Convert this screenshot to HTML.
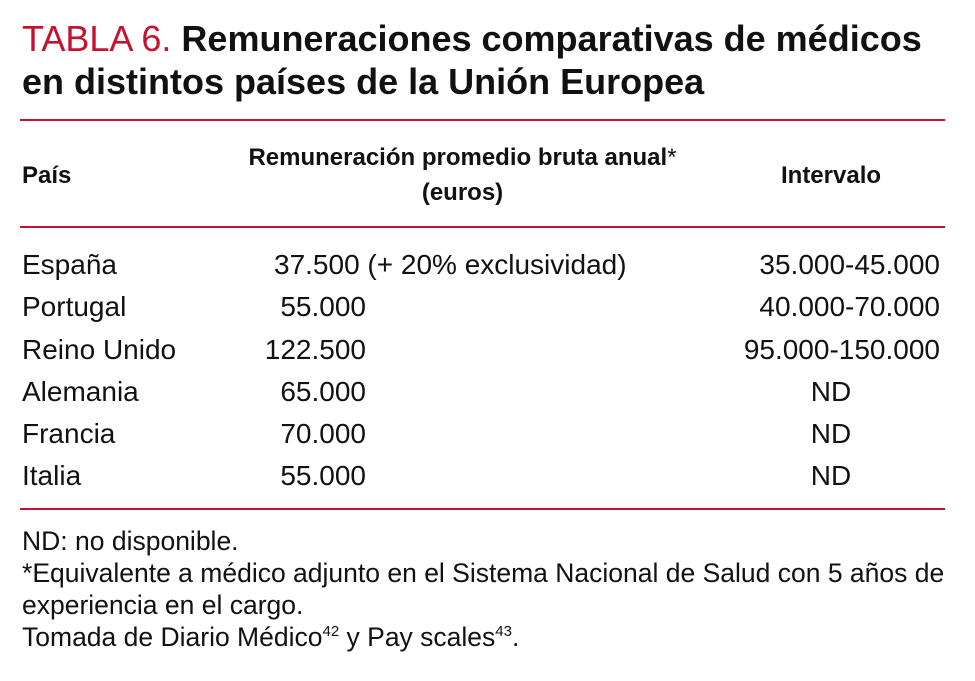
<!DOCTYPE html>
<html><head><meta charset="utf-8"><style>
body{margin:0;width:975px;height:681px;background:#fff;position:relative;overflow:hidden;font-family:"Liberation Sans Narrow","Liberation Sans",sans-serif;color:#111}
div{position:absolute;white-space:nowrap;line-height:1}
.r{background:#c4122f;height:2px;left:20px;width:925px}
.t{font-size:36px;font-weight:bold;left:22px}
.h{font-size:24px;font-weight:bold}
.d{font-size:28px}
.f{font-size:26.5px;left:22px}
sup{font-size:15px;vertical-align:10px;line-height:0}
</style></head><body>
<div class="t" style="top:21px"><span style="color:#c4122f;font-weight:normal">TABLA 6.</span> Remuneraciones comparativas de médicos</div>
<div class="t" style="top:64px">en distintos países de la Unión Europea</div>
<div class="r" style="top:119px"></div>
<div class="h" style="left:22px;top:164px">País</div>
<div class="h" style="left:200px;width:525px;text-align:center;top:146px">Remuneración promedio bruta anual<span style="font-weight:normal">*</span></div>
<div class="h" style="left:200px;width:525px;text-align:center;top:181px">(euros)</div>
<div class="h" style="left:731px;width:200px;text-align:center;top:164px">Intervalo</div>
<div class="r" style="top:226px"></div>

<div class="d" style="left:22px;top:251px">España</div>
<div class="d" style="left:274px;top:251px">37.500 (+ 20% exclusividad)</div>
<div class="d" style="right:35px;top:251px">35.000-45.000</div>

<div class="d" style="left:22px;top:293px">Portugal</div>
<div class="d" style="right:609px;top:293px">55.000</div>
<div class="d" style="right:35px;top:293px">40.000-70.000</div>

<div class="d" style="left:22px;top:336px">Reino Unido</div>
<div class="d" style="right:609px;top:336px">122.500</div>
<div class="d" style="right:35px;top:336px">95.000-150.000</div>

<div class="d" style="left:22px;top:378px">Alemania</div>
<div class="d" style="right:609px;top:378px">65.000</div>
<div class="d" style="left:731px;width:200px;text-align:center;top:378px">ND</div>

<div class="d" style="left:22px;top:420px">Francia</div>
<div class="d" style="right:609px;top:420px">70.000</div>
<div class="d" style="left:731px;width:200px;text-align:center;top:420px">ND</div>

<div class="d" style="left:22px;top:462px">Italia</div>
<div class="d" style="right:609px;top:462px">55.000</div>
<div class="d" style="left:731px;width:200px;text-align:center;top:462px">ND</div>

<div class="r" style="top:508px"></div>
<div class="f" style="top:528px">ND: no disponible.</div>
<div class="f" style="top:560px">*Equivalente a médico adjunto en el Sistema Nacional de Salud con 5 años de</div>
<div class="f" style="top:592px">experiencia en el cargo.</div>
<div class="f" style="top:624px">Tomada de Diario Médico<sup>42</sup> y Pay scales<sup>43</sup>.</div>
</body></html>
